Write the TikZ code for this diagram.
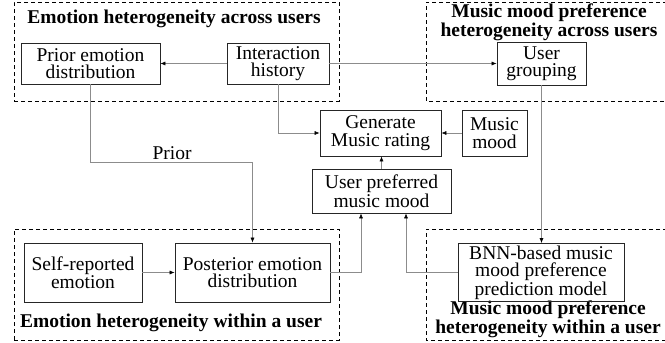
\documentclass[tikz,border=0pt]{standalone}
\usepackage{fontspec}
\setmainfont{Liberation Serif}
\usetikzlibrary{arrows.meta}
\begin{document}
\begin{tikzpicture}[x=1pt,y=-1pt,
  box/.style={draw=black!85, line width=0.7pt, align=center, inner sep=0pt,
    font=\fontsize{19.5}{17.5}\selectfont},
  grp/.style={draw=black, line width=1pt, dash pattern=on 4pt off 3pt},
  ttl/.style={align=center, inner sep=0pt, font=\fontsize{19.5}{16}\selectfont\bfseries},
  conn/.style={draw=black!45, line width=0.6pt, -{Latex[length=5pt,width=4pt,color=black]}}
]
\useasboundingbox (0,0) rectangle (665,343);
% group frames
\node[grp, minimum width=325pt, minimum height=99pt] (g1) at (176.5,51.5) {};
\draw[grp] (667,2) -- (426,2) -- (426,101) -- (667,101);
\node[grp, minimum width=325pt, minimum height=111pt] (g3) at (176.5,284.5) {};
\draw[grp] (667,229) -- (426,229) -- (426,340) -- (667,340);
% titles
\node[ttl] (t1) at (174,19) {Emotion heterogeneity across users};
\node[ttl] (t2) at (549,22) {Music mood preference\\heterogeneity across users};
\node[ttl] (t3) at (171,323) {Emotion heterogeneity within a user};
\node[ttl] (t4) at (548,319) {Music mood preference\\heterogeneity within a user};
% boxes
\node[box, minimum width=139pt, minimum height=41pt] (prior) at (90.5,63.5) {Prior emotion\\distribution};
\node[box, minimum width=102pt, minimum height=41pt] (inter) at (278,63.5) {Interaction\\history};
\node[box, minimum width=89pt, minimum height=43pt] (grp) at (541.5,63.5) {User\\grouping};
\node[box, minimum width=121pt, minimum height=46pt] (gen) at (380.5,133) {Generate\\Music rating};
\node[box, minimum width=65pt, minimum height=46pt] (mood) at (494.5,133) {Music\\mood};
\node[box, minimum width=139pt, minimum height=44pt] (upm) at (381.5,191) {User preferred\\music mood};
\node[box, minimum width=118pt, minimum height=59pt] (self) at (83,272.5) {Self-reported\\emotion};
\node[box, minimum width=155pt, minimum height=59pt] (post) at (252.5,272.5) {Posterior emotion\\distribution};
\node[box, minimum width=166pt, minimum height=58pt] (bnn) at (541,272.5) {BNN-based music\\mood preference\\prediction model};
% connectors
\draw[conn] (inter) -- (prior);
\draw[conn] (inter) -- (grp);
\draw[conn] (inter.south) |- (gen.west);
\draw[conn] (mood) -- (gen);
\draw[conn] (upm.north) -- (upm.north |- gen.south);
\draw[conn] (prior.south) -- ++(0,78) -| (post.north);
\node[font=\fontsize{19.5}{17.5}\selectfont, inner sep=0pt] (plab) at (172,153) {Prior};
\draw[conn] (self) -- (post);
\draw[conn] (post.east) -| ([xshift=-20.5pt]upm.south);
\draw[conn] (bnn.west) -| ([xshift=24.5pt]upm.south);
\draw[conn] (grp.south) -- (grp.south |- bnn.north);
\end{tikzpicture}
\end{document}
